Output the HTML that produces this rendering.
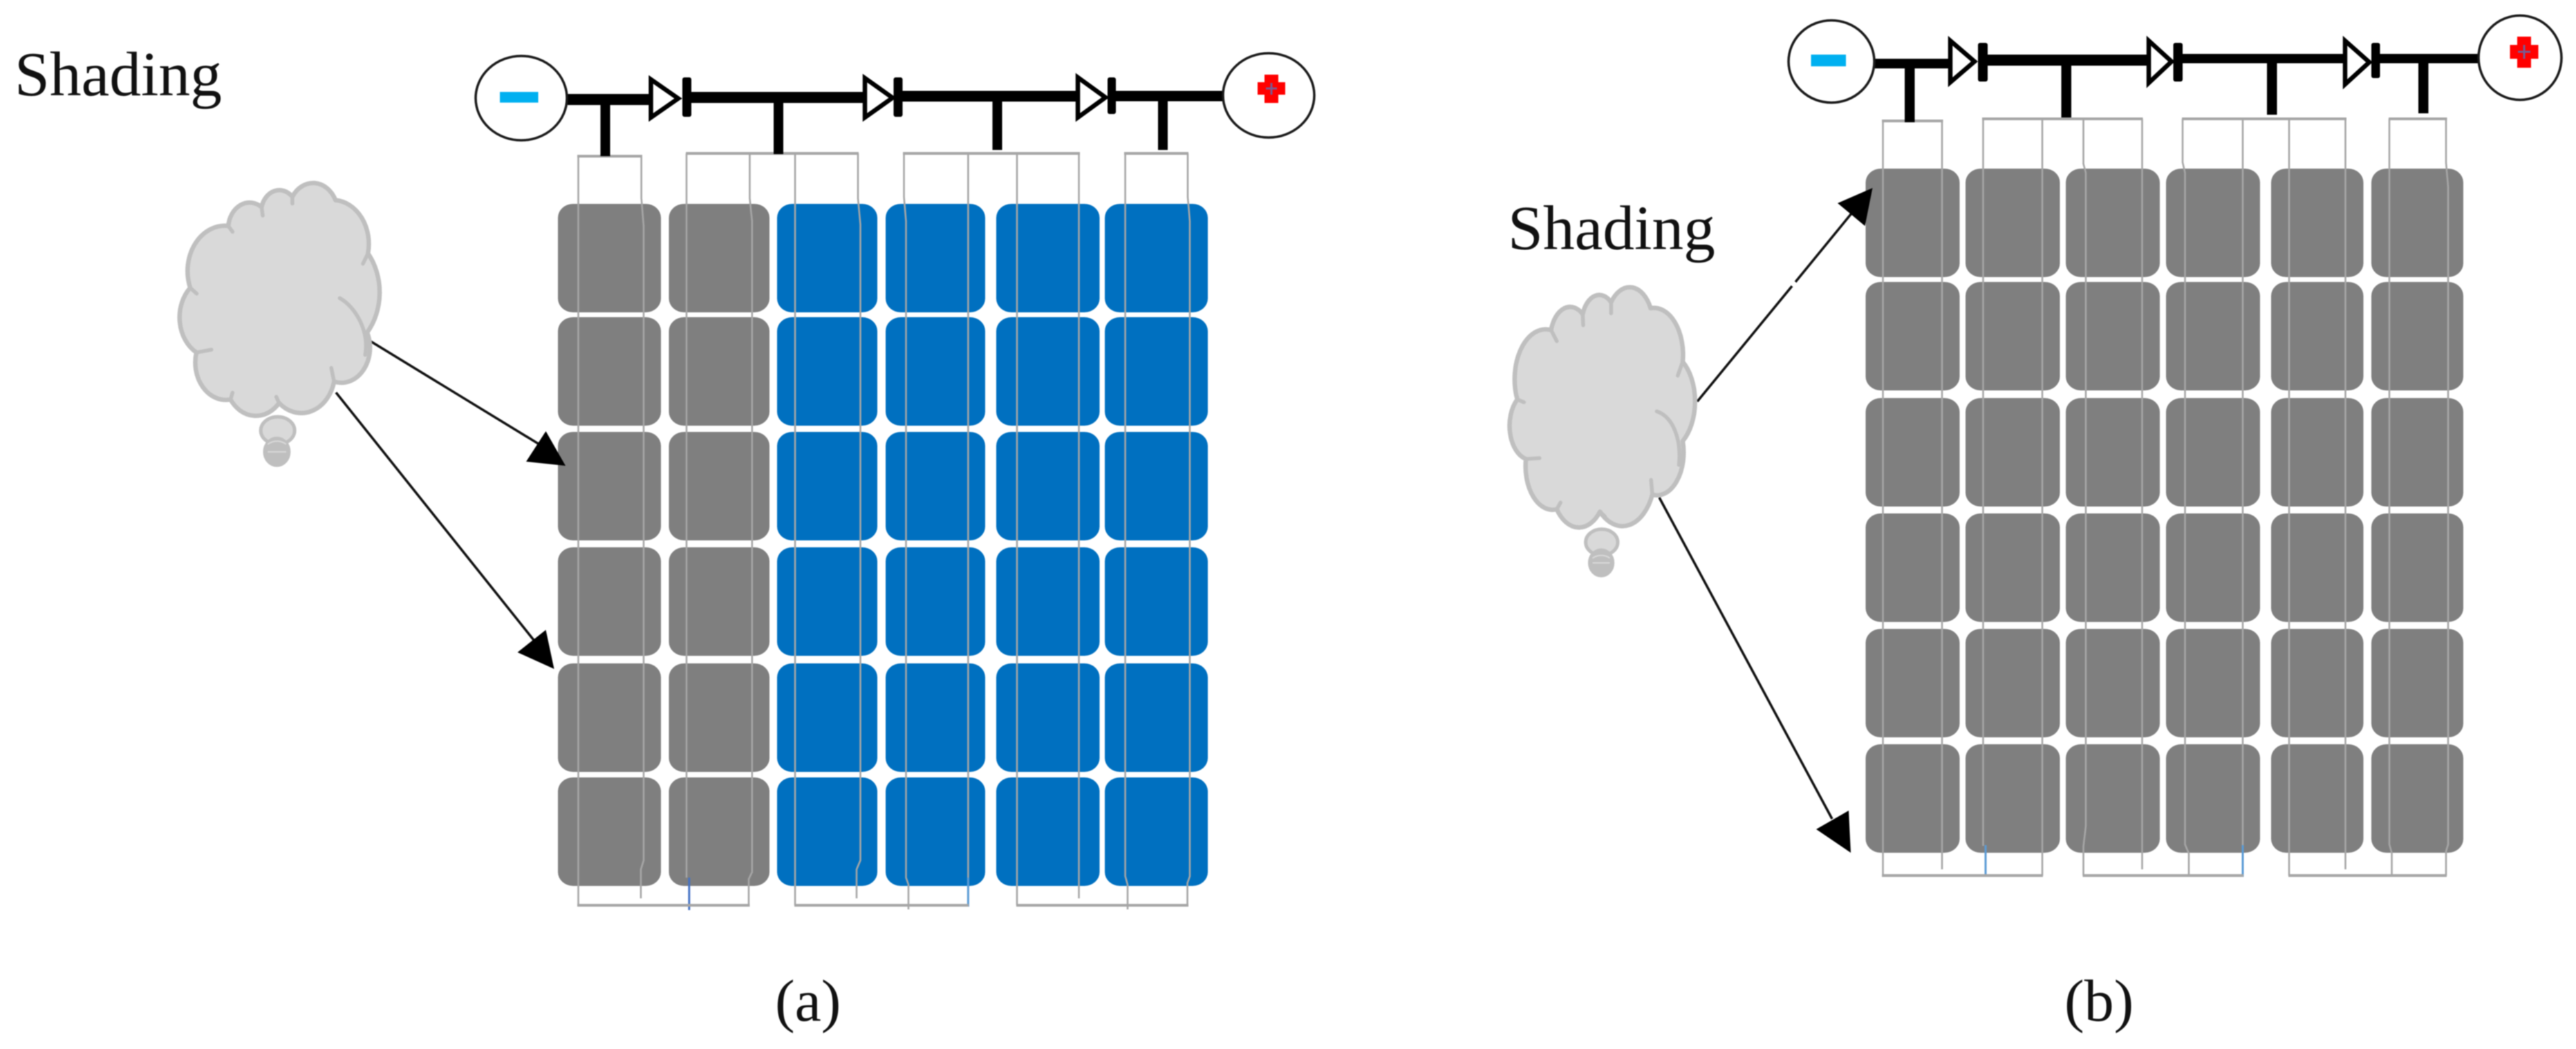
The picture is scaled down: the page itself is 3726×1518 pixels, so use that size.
<!DOCTYPE html>
<html>
<head>
<meta charset="utf-8">
<title>Shading diagram</title>
<style>
html,body{margin:0;padding:0;background:#fff;}
svg{display:block;filter:blur(0.9px);}
text{font-family:"Liberation Serif",serif;fill:#111;}
.v{fill:none;stroke:#a6a6a6;stroke-width:2.6;}
.b{fill:none;stroke:#a6a6a6;stroke-width:4;}
.cl{fill:#d9d9d9;stroke:#bfbfbf;stroke-width:6.5;vector-effect:non-scaling-stroke;stroke-linejoin:round;}
.ct{fill:none;stroke:#bfbfbf;stroke-width:5.5;vector-effect:non-scaling-stroke;stroke-linecap:round;}
.cs{fill:#d9d9d9;stroke:#bfbfbf;stroke-width:5;vector-effect:non-scaling-stroke;}
.cf{fill:#bfbfbf;stroke:#bfbfbf;stroke-width:4;vector-effect:non-scaling-stroke;}
.cw{fill:none;stroke:#d9d9d9;stroke-width:2;vector-effect:non-scaling-stroke;}
.k{fill:#000;}
.d{fill:#fff;stroke:#000;stroke-width:6.5;stroke-linejoin:miter;}
.t{fill:#fff;stroke:#1a1a1a;stroke-width:3.5;}
.a{stroke:#111;stroke-width:3.5;fill:none;}
</style>
</head>
<body>
<svg width="3726" height="1518" viewBox="0 0 3726 1518" xmlns="http://www.w3.org/2000/svg">
<rect width="3726" height="1518" fill="#fff"/>
<defs>
<g id="rowL">
<rect x="807" y="0" width="149" height="157" rx="22" ry="20" fill="#7f7f7f"/>
<rect x="967.5" y="0" width="145.500" height="157" rx="22" ry="20" fill="#7f7f7f"/>
<rect x="1124" y="0" width="145" height="157" rx="22" ry="20" fill="#0070c0"/>
<rect x="1281" y="0" width="144" height="157" rx="22" ry="20" fill="#0070c0"/>
<rect x="1441" y="0" width="149.500" height="157" rx="22" ry="20" fill="#0070c0"/>
<rect x="1598" y="0" width="149" height="157" rx="22" ry="20" fill="#0070c0"/>
</g>
<g id="rowR" fill="#7f7f7f">
<rect x="2698.500" y="0" width="136" height="157" rx="22" ry="20"/>
<rect x="2843" y="0" width="136.500" height="157" rx="22" ry="20"/>
<rect x="2988" y="0" width="136" height="157" rx="22" ry="20"/>
<rect x="3133" y="0" width="136" height="157" rx="22" ry="20"/>
<rect x="3285" y="0" width="133.500" height="157" rx="22" ry="20"/>
<rect x="3430" y="0" width="133" height="157" rx="22" ry="20"/>
</g>
</defs>

<!-- LEFT PANEL -->
<text x="21" y="138" font-size="91.500">Shading</text>
<text x="1121" y="1477" font-size="86">(a)</text>

<use href="#rowL" y="295"/>
<use href="#rowL" y="459"/>
<use href="#rowL" y="625"/>
<use href="#rowL" y="792"/>
<use href="#rowL" y="960"/>
<use href="#rowL" y="1125"/>

<g class="v">
<path d="M836.500 226V1310"/>
<path d="M927.700 226V287L931 327V1245L927 1258V1300"/>
<path d="M993 222V1270"/>
<path d="M1084.400 222V287L1087.800 320V1262L1083 1272V1310"/>
<path d="M1150 222V1310"/>
<path d="M1241 222V287L1244.500 325V1245L1239 1258V1300"/>
<path d="M1307.500 222V285L1310.500 320V1270L1314 1280V1316"/>
<path d="M1400.400 222V1272"/>
<path d="M1471 222V1310"/>
<path d="M1560.500 222V1300"/>
<path d="M1627.600 222V1268L1631 1280V1316"/>
<path d="M1718 222V285L1721 320V1268L1717.500 1278V1310"/>
</g>
<path d="M996.800 1270V1317" fill="none" stroke="#4472c4" stroke-width="3"/>
<path d="M1400.400 1270V1312" fill="none" stroke="#5b9bd5" stroke-width="3"/>
<g class="b">
<path d="M835 226H929"/>
<path d="M992 222H1242"/>
<path d="M1306 222H1562"/>
<path d="M1626 222H1719"/>
<path d="M835 1310H1084.500"/>
<path d="M1149 1310H1401"/>
<path d="M1470 1310H1719"/>
</g>

<!-- left bus -->
<rect class="k" x="821" y="136" width="121" height="16"/>
<rect class="k" x="996" y="133" width="262" height="16"/>
<rect class="k" x="1303" y="131.500" width="257" height="15.500"/>
<rect class="k" x="1610" y="131.500" width="158" height="15"/>
<rect class="k" x="868.500" y="145" width="14" height="81"/>
<rect class="k" x="1119" y="140" width="14" height="83"/>
<rect class="k" x="1435.500" y="140" width="14" height="77"/>
<rect class="k" x="1675" y="140" width="14" height="77"/>
<path class="d" d="M941.500 115V170L981 142.500Z"/>
<rect class="k" x="987" y="112" width="13" height="57" rx="3"/>
<path class="d" d="M1251 113V170L1291 141.500Z"/>
<rect class="k" x="1292.500" y="112" width="13" height="57" rx="3"/>
<path class="d" d="M1559 112V170L1599 141Z"/>
<rect class="k" x="1602" y="112" width="12" height="53" rx="3"/>
<ellipse class="t" cx="754" cy="142" rx="66" ry="61"/>
<ellipse class="t" cx="1835" cy="138" rx="66" ry="61"/>
<rect x="723" y="133" width="55.500" height="15.500" fill="#00b0f0"/>
<path d="M1829 108H1849V119H1859V137H1849V149H1829V137H1819V119H1829Z" fill="#ff0000"/>
<path d="M1839 120V137M1831 128H1847" stroke="#7a5a90" stroke-width="3" fill="none"/>

<!-- left arrows -->
<path class="a" d="M533 492L785 646"/>
<path class="k" d="M818 674L789.500 624L761 668Z"/>
<path class="a" d="M486 568L775 930"/>
<path class="k" d="M801.500 968L789.500 911.500L748.500 944Z"/>

<!-- left cloud -->
<g transform="translate(220,220) scale(0.4082,0.4975)">
<path class="cl" d="M135 395A132 132 0 0 1 270 215A76 76 0 0 1 388 160A65 65 0 0 1 497 130A88 88 0 0 1 650 140A128 128 0 0 1 765 295A176 176 0 0 1 762 525A102 102 0 0 1 645 668A120 120 0 0 1 450 730A109 109 0 0 1 278 720A109 109 0 0 1 157 583A117 117 0 0 1 135 395Z"/>
<path class="ct" d="M665 425C720 450 770 520 755 590M270 215L285 232M388 160L392 185M497 130L497 150M765 295L747 325M645 668L635 628M450 730L440 712M278 720L285 700M157 583L210 575M135 395L158 412"/>
<ellipse class="cs" cx="445" cy="810" rx="60" ry="40"/>
<ellipse class="cf" cx="442" cy="872" rx="44" ry="40"/>
<path class="cw" d="M410 850C430 838 455 838 475 850M410 872H475"/>
</g>

<!-- RIGHT PANEL -->
<text x="2181" y="360.700" font-size="91.500">Shading</text>
<text x="2986" y="1477" font-size="86">(b)</text>

<use href="#rowR" y="244"/>
<use href="#rowR" y="408"/>
<use href="#rowR" y="576"/>
<use href="#rowR" y="743"/>
<use href="#rowR" y="910"/>
<use href="#rowR" y="1077"/>

<g class="v">
<path d="M2723.500 175V1267"/>
<path d="M2809 175V1258"/>
<path d="M2868.500 172V1224"/>
<path d="M2954 172V1267"/>
<path d="M3013.500 172V237L3017 250V1195L3013.500 1225V1267"/>
<path d="M3098.500 172V1258"/>
<path d="M3157 172V235L3160.500 250V1222L3166 1235V1269"/>
<path d="M3244 172V1224"/>
<path d="M3311 172V1267"/>
<path d="M3392.500 172V1258"/>
<path d="M3456 172V1222L3459.500 1234V1269"/>
<path d="M3538 172V235L3541 270V1222L3538 1232V1267"/>
</g>
<path d="M2872 1223V1269M3244 1223V1269" fill="none" stroke="#5b9bd5" stroke-width="3"/>
<g class="b">
<path d="M2722 175H2810.500"/>
<path d="M2867 172H3099.500"/>
<path d="M3156 172H3394"/>
<path d="M3455 172H3539.500"/>
<path d="M2722 1267H2955"/>
<path d="M3012.500 1267H3245"/>
<path d="M3310 1267H3539"/>
</g>

<!-- right bus -->
<rect class="k" x="2712" y="85" width="108" height="14"/>
<rect class="k" x="2872" y="79" width="234" height="16"/>
<rect class="k" x="3155" y="78" width="234" height="13.500"/>
<rect class="k" x="3437" y="78" width="147" height="13.500"/>
<rect class="k" x="2755" y="90" width="14.500" height="87"/>
<rect class="k" x="2981.500" y="90" width="14.500" height="80"/>
<rect class="k" x="3279" y="88" width="14.500" height="78"/>
<rect class="k" x="3498" y="88" width="14.500" height="76"/>
<path class="d" d="M2821 59V119L2856 89Z"/>
<rect class="k" x="2861" y="62" width="14" height="56" rx="3"/>
<path class="d" d="M3108 59V120L3141 89Z"/>
<rect class="k" x="3143.500" y="62" width="13.500" height="56" rx="3"/>
<path class="d" d="M3392 59V122L3427 90Z"/>
<rect class="k" x="3430" y="62" width="12.500" height="51" rx="3"/>
<ellipse class="t" cx="2649" cy="89" rx="62" ry="59.500"/>
<ellipse class="t" cx="3645" cy="83.500" rx="60" ry="61"/>
<rect x="2619.500" y="79" width="50.500" height="17" fill="#00b0f0"/>
<path d="M3641 53H3661V65H3671.500V85H3661V98H3641V85H3630.500V65H3641Z" fill="#ff0000"/>
<path d="M3651 65V85M3642 75H3660" stroke="#7a5a90" stroke-width="3" fill="none"/>

<!-- right arrows -->
<path class="a" d="M2455 581L2592 414M2597 408L2682 304"/>
<path class="k" d="M2708.500 272L2658 294L2697.500 327Z"/>
<path class="a" d="M2400 720L2650 1185"/>
<path class="k" d="M2677 1234L2674 1173L2627 1200Z"/>

<!-- right cloud -->
<g transform="translate(2150,380) scale(0.3571,0.574)">
<path class="cl" d="M125 345A126 126 0 0 1 262 170A80 80 0 0 1 390 130A71 71 0 0 1 505 100A94 94 0 0 1 665 115A118 118 0 0 1 795 250A125 125 0 0 1 795 450A108 108 0 0 1 672 585A132 132 0 0 1 460 628A111 111 0 0 1 285 622A110 110 0 0 1 160 495A86 86 0 0 1 125 345Z"/>
<path class="ct" d="M690 375C760 390 790 450 780 510M262 170L285 198M390 130L392 158M505 100L505 128M795 250L775 285M672 585L667 548M460 628L480 640M285 622L300 605M160 495L215 493M125 345L152 352"/>
<ellipse class="cs" cx="467" cy="705" rx="65" ry="33"/>
<ellipse class="cf" cx="465" cy="757" rx="48" ry="33"/>
<path class="cw" d="M430 745C450 736 480 736 500 745M430 757H500"/>
</g>
</svg>
</body>
</html>
